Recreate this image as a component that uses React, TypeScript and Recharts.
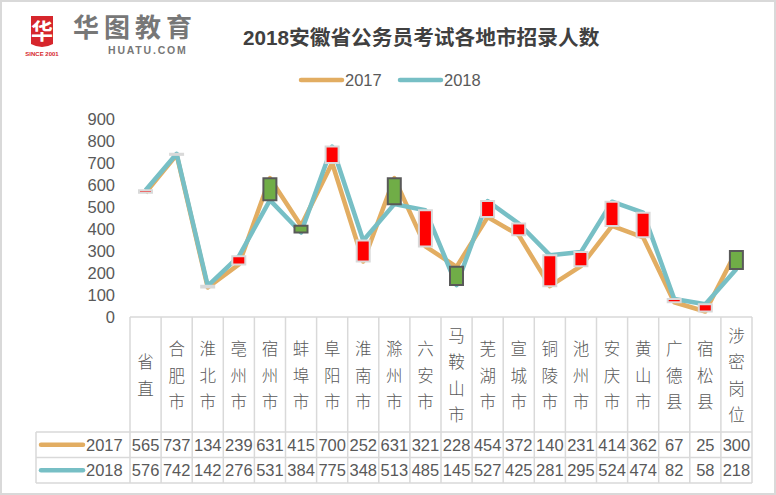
import { ComposedChart, Line, Bar, Cell, XAxis, YAxis } from "recharts"

const categories = [
  "省直", "合肥市", "淮北市", "亳州市", "宿州市", "蚌埠市", "阜阳市", "淮南市", "滁州市", "六安市",
  "马鞍山市", "芜湖市", "宣城市", "铜陵市", "池州市", "安庆市", "黄山市", "广德县", "宿松县", "涉密岗位",
]
const values2017 = [565, 737, 134, 239, 631, 415, 700, 252, 631, 321, 228, 454, 372, 140, 231, 414, 362, 67, 25, 300]
const values2018 = [576, 742, 142, 276, 531, 384, 775, 348, 513, 485, 145, 527, 425, 281, 295, 524, 474, 82, 58, 218]
const yTicks = [0, 100, 200, 300, 400, 500, 600, 700, 800, 900]
const seriesNames = ["2017", "2018"]

const C2017 = "#E2AD62"
const C2018 = "#77BFC5"
const GRID = "#D9D9D9"
const TXT = "#595959"
const FONT = "'Liberation Sans', Arial, 'Noto Sans CJK SC', sans-serif"

// table geometry
const PLOT_LEFT = 130
const PLOT_RIGHT = 752
const TABLE_LEFT = 36
const HEADER_H = 115
const ROW_H = 25.5

const data = categories.map((name, i) => ({
  name,
  y2017: values2017[i],
  y2018: values2018[i],
  range: [Math.min(values2017[i], values2018[i]), Math.max(values2017[i], values2018[i])],
}))

function TableTick(props: any) {
  const { x, y, payload, index } = props
  const bw = (PLOT_RIGHT - PLOT_LEFT) / categories.length
  const left = x - bw / 2
  const chars = Array.from(String(payload.value))
  const lh = 26.5
  const midY = y + HEADER_H / 2 + 1
  const startY = midY - ((chars.length - 1) * lh) / 2
  const bottom = y + HEADER_H + ROW_H * 2
  return (
    <g>
      {index === 0 && (
        <g>
          <line x1={PLOT_LEFT} x2={PLOT_RIGHT} y1={y} y2={y} stroke={GRID} strokeWidth={1.5} />
          {[1, 2].map((k) => (
            <line key={k} x1={TABLE_LEFT} x2={PLOT_RIGHT} y1={y + HEADER_H + ROW_H * (k - 1)} y2={y + HEADER_H + ROW_H * (k - 1)} stroke={GRID} strokeWidth={1.5} />
          ))}
          <line x1={TABLE_LEFT} x2={PLOT_RIGHT} y1={bottom} y2={bottom} stroke={GRID} strokeWidth={1.5} />
          <line x1={TABLE_LEFT} x2={TABLE_LEFT} y1={y + HEADER_H} y2={bottom} stroke={GRID} strokeWidth={1.5} />
          {seriesNames.map((s, k) => {
            const cy = y + HEADER_H + ROW_H * k + ROW_H / 2
            return (
              <g key={s}>
                <line x1={41} x2={83} y1={cy} y2={cy} stroke={k === 0 ? C2017 : C2018} strokeWidth={4.5} strokeLinecap="round" />
                <text x={86} y={cy + 6} fontSize={16.5} fill={TXT} fontFamily={FONT}>{s}</text>
              </g>
            )
          })}
        </g>
      )}
      <line x1={left} x2={left} y1={y} y2={bottom} stroke={GRID} strokeWidth={1.5} />
      {index === categories.length - 1 && (
        <line x1={left + bw} x2={left + bw} y1={y} y2={bottom} stroke={GRID} strokeWidth={1.5} />
      )}
      {chars.map((ch, k) => (
        <text key={k} x={x} y={startY + k * lh + 6} textAnchor="middle" fontSize={16.5} fill={TXT} fontFamily="'Noto Sans CJK SC', sans-serif" fontWeight={300}>
          {ch}
        </text>
      ))}
      {[values2017[index], values2018[index]].map((v, k) => (
        <text key={k} x={x} y={y + HEADER_H + ROW_H * k + ROW_H / 2 + 6} textAnchor="middle" fontSize={16.5} fill={TXT} fontFamily={FONT}>
          {v}
        </text>
      ))}
    </g>
  )
}

function Logo() {
  return (
    <div style={{ position: "absolute", left: 0, top: 0 }}>
      <svg width={220} height={64}>
        <path d="M31 16 H53 V44 Q42 50 31 44 Z" fill="#D6262C" />
        <text x={42} y={39} textAnchor="middle" fontSize={22} fontWeight={700} fill="#fff" fontFamily="'Noto Sans CJK SC', sans-serif">华</text>
        <text x={42} y={56} textAnchor="middle" fontSize={6} fontWeight={700} fill="#D6262C" fontFamily={FONT}>SINCE 2001</text>
        <text x={73} y={37} fontSize={26} fontWeight={700} fill="#777" fontFamily="'Noto Sans CJK SC', sans-serif" letterSpacing={5}>华图教育</text>
        <text x={108} y={54} fontSize={10.5} fontWeight={700} fill="#777" fontFamily={FONT} letterSpacing={1.8}>HUATU.COM</text>
      </svg>
    </div>
  )
}

export default function App() {
  return (
    <div style={{ position: "absolute", left: 0, top: 0, width: 776, height: 495, background: "#fff", boxSizing: "border-box", border: `2px solid ${GRID}`, overflow: "hidden" }}>
      <div style={{ position: "absolute", left: -2, top: -2 }}>
        <ComposedChart width={776} height={495} data={data} margin={{ top: 119, right: 24, bottom: 12, left: 0 }}>
          <YAxis
            domain={[0, 900]}
            ticks={yTicks}
            width={130}
            axisLine={false}
            tickLine={false}
            tickSize={6}
            tickMargin={9}
            interval={0}
            tick={{ fill: TXT, fontSize: 16.5, fontFamily: FONT }}
          />
          <XAxis
            dataKey="name"
            height={166}
            axisLine={false}
            tickLine={false}
            tickSize={0}
            tickMargin={0}
            interval={0}
            tick={<TableTick />}
          />
          <Line dataKey="y2017" stroke={C2017} strokeWidth={4.5} strokeLinejoin="round" dot={false} isAnimationActive={false} zIndex={300} />
          <Line dataKey="y2018" stroke={C2018} strokeWidth={4.5} strokeLinejoin="round" dot={false} isAnimationActive={false} zIndex={301} />
          <Bar dataKey="range" barSize={13} isAnimationActive={false} zIndex={900}>
            {data.map((d, i) => (
              <Cell
                key={i}
                fill={d.y2018 >= d.y2017 ? "#FF0000" : "#70AD47"}
                stroke={d.y2018 >= d.y2017 ? GRID : TXT}
                strokeWidth={2}
              />
            ))}
          </Bar>
        </ComposedChart>
        <Logo />
        <div style={{ position: "absolute", left: 243, top: 21, fontSize: 20.7, fontWeight: 700, color: "#404040", fontFamily: FONT, whiteSpace: "nowrap" }}>
          2018安徽省公务员考试各地市招录人数
        </div>
        <svg style={{ position: "absolute", left: 0, top: 66 }} width={776} height={30}>
          {seriesNames.map((s, k) => (
            <g key={s} transform={`translate(${k * 99},0)`}>
              <line x1={301} x2={342} y1={14} y2={14} stroke={k === 0 ? C2017 : C2018} strokeWidth={4.5} strokeLinecap="round" />
              <text x={345} y={20} fontSize={16.5} fill={TXT} fontFamily={FONT}>{s}</text>
            </g>
          ))}
        </svg>
      </div>
    </div>
  )
}
